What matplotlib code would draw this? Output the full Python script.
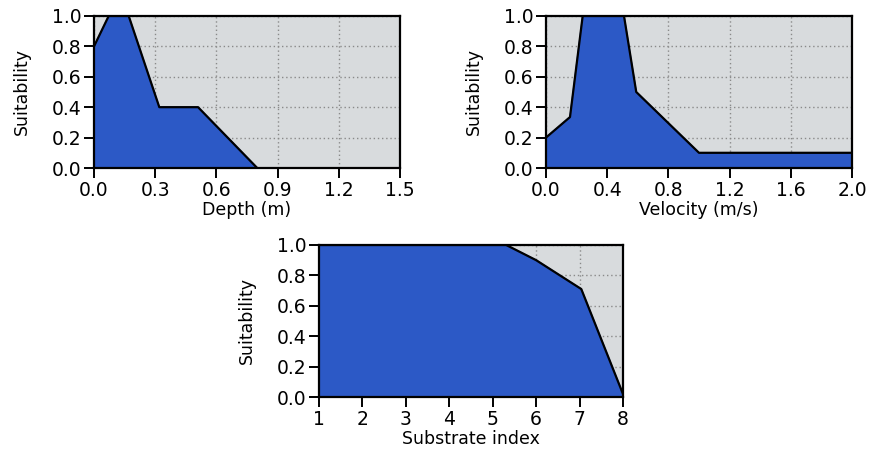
import matplotlib.pyplot as plt
import numpy as np

plt.rcParams['font.family'] = ['DejaVu Sans']

# habitat suitability curves
depth_x = [0.0, 0.072, 0.17, 0.32, 0.51, 0.80]
depth_y = [0.8, 1.0, 1.0, 0.4, 0.4, 0.0]

vel_x = [0.0, 0.157, 0.24, 0.51, 0.59, 1.0, 2.0]
vel_y = [0.2, 0.335, 1.0, 1.0, 0.5, 0.1, 0.1]

sub_x = [1, 5.31, 6.0, 7.04, 8.0]
sub_y = [1.0, 1.0, 0.9, 0.71, 0.02]

blue = '#2c59c6'
bg = '#d8dbdd'

fig = plt.figure(figsize=(8.73, 4.65), dpi=100)

panels = [
    ([0.1077, 0.6387, 0.3505, 0.327], depth_x, depth_y, (0, 1.5),
     np.arange(0, 1.51, 0.3), 'Depth (m)'),
    ([0.6254, 0.6387, 0.3505, 0.327], vel_x, vel_y, (0, 2.0),
     np.arange(0, 2.01, 0.4), 'Velocity (m/s)'),
    ([0.3654, 0.1462, 0.3482, 0.327], sub_x, sub_y, (1, 8),
     np.arange(1, 9), 'Substrate index'),
]

for rect, x, y, xlim, xticks, xlabel in panels:
    ax = fig.add_axes(rect)
    ax.set_facecolor(bg)
    ax.set_axisbelow(True)
    ax.grid(True, linestyle=(0, (1, 2)), color='#8a8a8a', linewidth=1)
    px = [x[0]] + list(x) + [x[-1]]
    py = [0] + list(y) + [0]
    ax.fill(px, py, color=blue, zorder=2)
    ax.plot(x, y, color='black', linewidth=1.6, zorder=3)
    ax.set_xlim(*xlim)
    ax.set_ylim(0, 1.0)
    ax.set_xticks(xticks)
    if xlim[1] == 8:
        ax.set_xticklabels([str(int(v)) for v in xticks])
    else:
        ax.set_xticklabels([f'{v:.1f}' for v in xticks])
    ax.set_yticks(np.arange(0, 1.01, 0.2))
    ax.set_yticklabels([f'{v:.1f}' for v in np.arange(0, 1.01, 0.2)])
    ax.tick_params(direction='out', length=7, width=1.4, labelsize=13.5, pad=2)
    for s in ax.spines.values():
        s.set_linewidth(1.6)
    ax.set_xlabel(xlabel, fontsize=12.5, labelpad=1)
    ax.set_ylabel('Suitability', fontsize=12.5, labelpad=15)

fig.savefig('out.png', dpi=100)
